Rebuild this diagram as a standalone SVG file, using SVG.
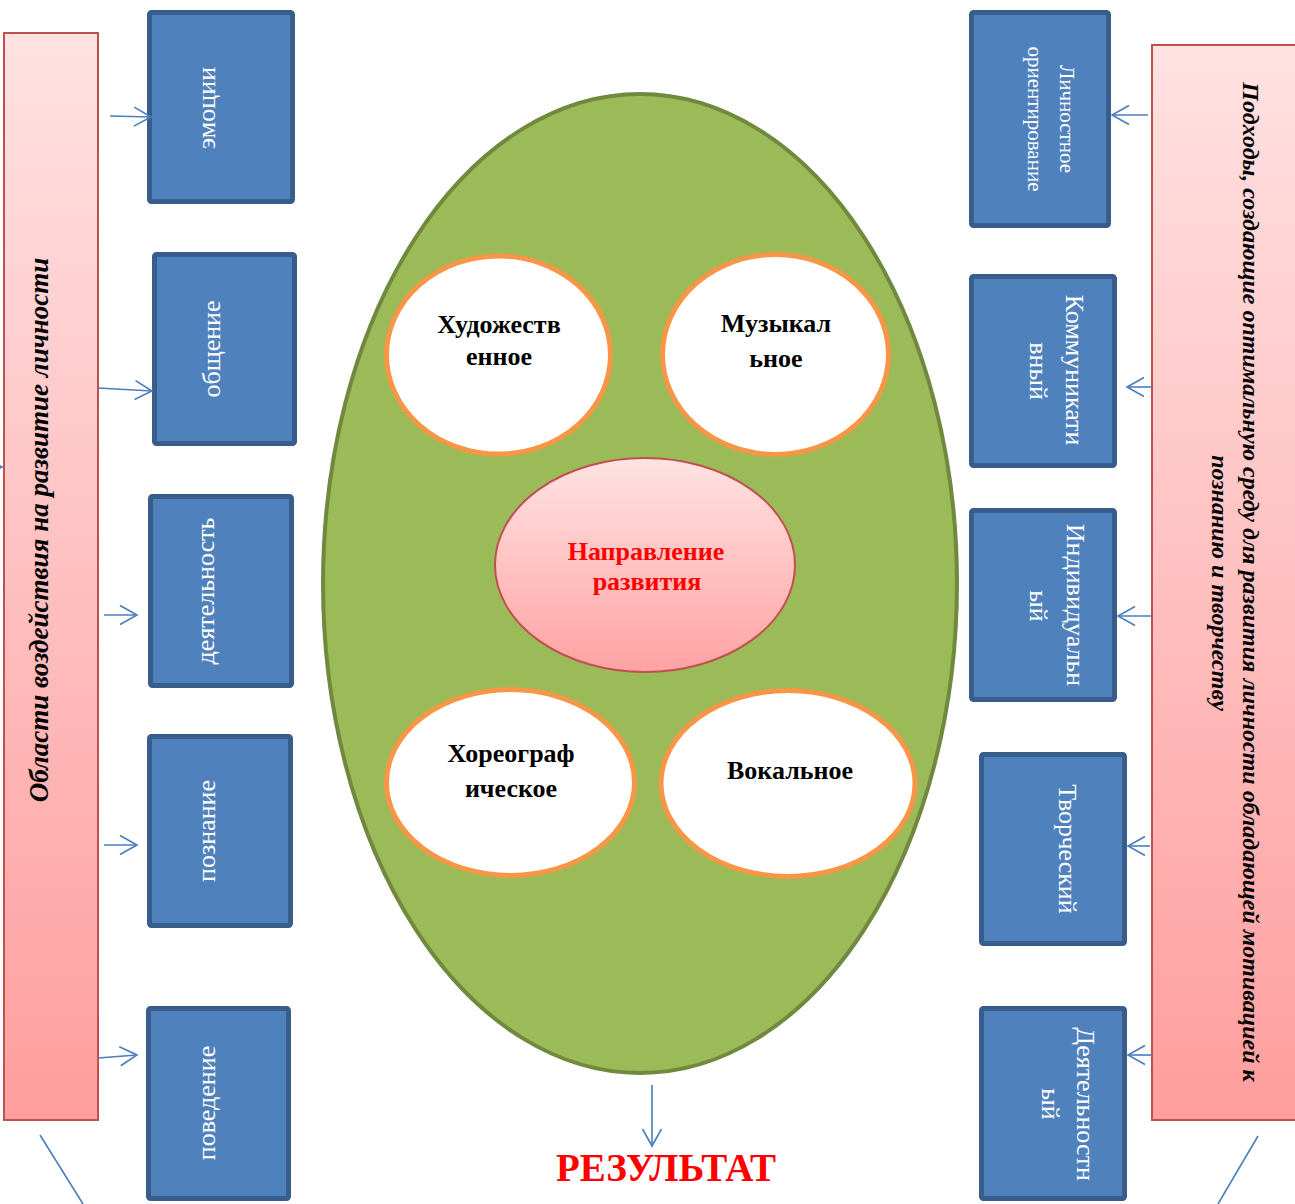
<svg xmlns="http://www.w3.org/2000/svg" width="1295" height="1204" viewBox="0 0 1295 1204">
<style>
.panel{stroke:#C0504D;stroke-width:2}
.box rect{fill:#4F81BD;stroke:#385D8A;stroke-width:5}
.bt{font-family:"Liberation Serif","Times New Roman",serif;fill:#FFFFFF;font-size:26px;text-anchor:middle}
.bt21{font-size:21px}
.pt{font-family:"Liberation Serif","Times New Roman",serif;font-weight:bold;font-style:italic;fill:#000000;text-anchor:middle}
.ot{font-family:"Liberation Serif","Times New Roman",serif;font-weight:bold;fill:#000000;text-anchor:middle;font-size:26px}
.wel{fill:#FFFFFF;stroke:#F79646;stroke-width:5}
.conn path{fill:none;stroke:#4A7EBB;stroke-width:1.6}
.arr{marker-end:url(#ah)}
</style>
<defs>
<linearGradient id="pg" x1="0" y1="0" x2="0" y2="1">
<stop offset="0" stop-color="#FFE2E2"/>
<stop offset="1" stop-color="#FF9E9E"/>
</linearGradient>
<linearGradient id="cg" x1="0" y1="0" x2="0" y2="1">
<stop offset="0" stop-color="#FFE3E3"/>
<stop offset="1" stop-color="#FFA2A2"/>
</linearGradient>
<marker id="ah" viewBox="0 0 18 20" refX="17" refY="10" markerWidth="18" markerHeight="20" markerUnits="userSpaceOnUse" orient="auto" overflow="visible">
<path d="M0,0.5 L17,10 L0,19.5" fill="none" stroke="#4A7EBB" stroke-width="1.6"/>
</marker>
</defs>
<rect width="1295" height="1204" fill="#FFFFFF"/>

<g id="left-panel">
<rect class="panel" x="4" y="33" width="94" height="1087" fill="url(#pg)"/>
<text class="pt" font-size="27" transform="translate(48,530) rotate(-90)">Области воздействия на развитие личности</text>
</g>

<g id="right-panel">
<rect class="panel" x="1152" y="45" width="150" height="1075" fill="url(#pg)"/>
<text class="pt" font-size="24" transform="translate(1243,582) rotate(90)">Подходы, создающие оптимальную среду для развития личности обладающей мотивацией к</text>
<text class="pt" font-size="24" transform="translate(1212,583) rotate(90)">познанию и творчеству</text>
</g>

<g id="l-emotions" class="box"><rect x="149.5" y="12.5" width="143" height="189" rx="2"/><text class="bt" transform="translate(215,108) rotate(-90)">эмоции</text></g>
<g id="l-communication" class="box"><rect x="154.5" y="254.5" width="140" height="189" rx="2"/><text class="bt" transform="translate(220,349) rotate(-90)">общение</text></g>
<g id="l-activity" class="box"><rect x="150.5" y="496.5" width="141" height="189" rx="2"/><text class="bt" transform="translate(214,591) rotate(-90)">деятельность</text></g>
<g id="l-cognition" class="box"><rect x="149.5" y="736.5" width="141" height="189" rx="2"/><text class="bt" transform="translate(215,831) rotate(-90)">познание</text></g>
<g id="l-behavior" class="box"><rect x="148.5" y="1008.5" width="140" height="190" rx="2"/><text class="bt" transform="translate(215,1103) rotate(-90)">поведение</text></g>

<g id="r-personal" class="box"><rect x="971.5" y="12.5" width="137" height="213" rx="2"/>
<text class="bt bt21" transform="translate(1060,119) rotate(90)">Личностное</text>
<text class="bt bt21" transform="translate(1028,119) rotate(90)">ориентирование</text></g>
<g id="r-communicative" class="box"><rect x="971.5" y="276.5" width="143" height="189" rx="2"/>
<text class="bt" transform="translate(1066,370) rotate(90)">Коммуникати</text>
<text class="bt" transform="translate(1030,371) rotate(90)">вный</text></g>
<g id="r-individual" class="box"><rect x="971.5" y="510.5" width="143" height="189" rx="2"/>
<text class="bt" transform="translate(1067,605) rotate(90)">Индивидуальн</text>
<text class="bt" transform="translate(1030,606) rotate(90)">ый</text></g>
<g id="r-creative" class="box"><rect x="981.5" y="754.5" width="143" height="189" rx="2"/>
<text class="bt" transform="translate(1059,849) rotate(90)">Творческий</text></g>
<g id="r-activity" class="box"><rect x="981.5" y="1008.5" width="143" height="190" rx="2"/>
<text class="bt" transform="translate(1077,1104) rotate(90)">Деятельностн</text>
<text class="bt" transform="translate(1042,1104) rotate(90)">ый</text></g>

<g id="center-oval">
<ellipse cx="640" cy="583.5" rx="317" ry="489.5" fill="#9BBB59" stroke="#71893F" stroke-width="4"/>
</g>
<g id="art">
<ellipse class="wel" cx="498.5" cy="355" rx="112" ry="99"/>
<text class="ot" font-size="22" x="499" y="333">Художеств</text>
<text class="ot" font-size="22" x="499" y="365">енное</text>
</g>
<g id="music">
<ellipse class="wel" cx="775.5" cy="354.5" rx="113" ry="100"/>
<text class="ot" x="776" y="332">Музыкал</text>
<text class="ot" x="776" y="367">ьное</text>
</g>
<g id="direction">
<ellipse cx="645" cy="565" rx="150" ry="107" fill="url(#cg)" stroke="#C0504D" stroke-width="2"/>
<text class="ot" x="646" y="560" style="fill:#FF0000">Направление</text>
<text class="ot" x="647" y="590" style="fill:#FF0000">развития</text>
</g>
<g id="choreo">
<ellipse class="wel" cx="510.5" cy="782.5" rx="124" ry="93"/>
<text class="ot" x="511" y="762">Хореограф</text>
<text class="ot" x="511" y="797">ическое</text>
</g>
<g id="vocal">
<ellipse class="wel" cx="788" cy="783.5" rx="127" ry="93"/>
<text class="ot" x="790" y="779">Вокальное</text>
</g>

<g id="result">
<text x="666" y="1181" font-family="Liberation Serif,Times New Roman,serif" font-weight="bold" font-size="39" fill="#FF0000" text-anchor="middle">РЕЗУЛЬТАТ</text>
</g>

<g id="connectors" class="conn">
<path class="arr" d="M110,116 L151,117"/>
<path class="arr" d="M98,388 L152,391"/>
<path class="arr" d="M104,615 L137,615"/>
<path class="arr" d="M104,845 L137,845"/>
<path class="arr" d="M98,1058 L137,1055"/>
<path class="arr" d="M1148,115 L1112,115"/>
<path class="arr" d="M1152,387 L1127,387"/>
<path class="arr" d="M1152,616 L1118,616"/>
<path class="arr" d="M1150,846 L1128,846"/>
<path class="arr" d="M1152,1055 L1128,1055"/>
<path class="arr" d="M652,1085 L652,1146"/>
<path class="arr" d="M-30,467 L2,467"/>
<path d="M40,1135 L83,1204"/>
<path d="M1258,1136 L1218,1204"/>
</g>
</svg>
